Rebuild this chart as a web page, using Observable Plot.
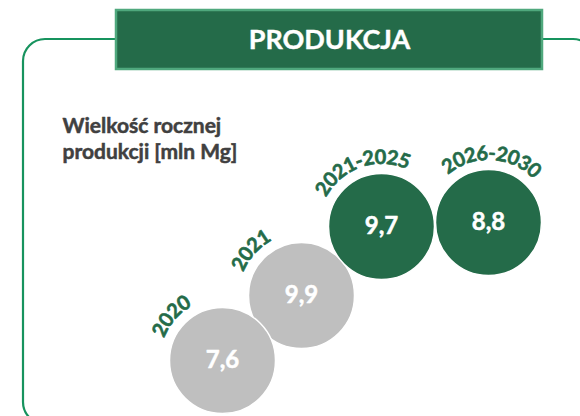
<!DOCTYPE html>
<html><head><meta charset="utf-8">
<script src="https://cdn.jsdelivr.net/npm/d3@7"></script>
<script src="https://cdn.jsdelivr.net/npm/@observablehq/plot@0.6"></script>
<style>html,body{margin:0;padding:0;background:#fff;} #chart{width:580px;height:416px;overflow:hidden}</style>
</head><body><div id="chart"></div>
<script>
// ---- data ----
const periods = ["2020", "2021", "2021-2025", "2026-2030"];
const values = [7.6, 9.9, 9.7, 8.8];
const kinds = ["historia", "historia", "prognoza", "prognoza"];
const headerText = "PRODUKCJA";
const subtitleLines = ["Wielkość rocznej", "produkcji [mln Mg]"];

// ---- layout (bubble placement, not data) ----
const bubbleX = [222, 301, 381, 488];
const bubbleY = [360, 295, 226, 222];
const labelAngle = [-49, -48, -19, 3];
const bubbleR = 53;
const labelRadius = 69;

const green = "#246B49";
const gray = "#BFBFBF";
const frameColor = "#17935E";
const fontFamily = "Lato";
const yearFont = 20;

const idx = periods.map((d, i) => i);
const fmt = v => v.toFixed(1).replace(".", ",");

// characters placed along an arc above each bubble
const ctx = document.createElement("canvas").getContext("2d");
ctx.font = `bold ${yearFont}px ${fontFamily}`;
const chars = [];
idx.forEach(i => {
  const s = periods[i];
  const ws = [...s].map(c => ctx.measureText(c).width + 0.4);
  const total = d3.sum(ws);
  let acc = 0;
  const a0 = labelAngle[i] * Math.PI / 180 - (total / 2) / labelRadius;
  [...s].forEach((c, k) => {
    const a = a0 + (acc + ws[k] / 2) / labelRadius;
    acc += ws[k];
    chars.push({
      ch: c,
      x: bubbleX[i] + labelRadius * Math.sin(a),
      y: bubbleY[i] - labelRadius * Math.cos(a),
      rot: a * 180 / Math.PI
    });
  });
});

const chart = Plot.plot({
  width: 580,
  height: 416,
  margin: 0,
  x: {domain: [0, 580], range: [0, 580], axis: null},
  y: {domain: [0, 416], range: [0, 416], axis: null},
  color: {domain: ["historia", "prognoza"], range: [gray, green]},
  style: {fontFamily: fontFamily, background: "white", overflow: "hidden"},
  marks: [
    Plot.rect([0], {x1: 23, x2: 595, y1: 39, y2: 424, rx: 22, fill: "none", stroke: frameColor, strokeWidth: 2.2}),
    Plot.rect([0], {x1: 116, x2: 542, y1: 10, y2: 69, fill: green, stroke: "#4FA87D", strokeWidth: 2.5}),
    Plot.text([headerText], {x: 329, y: 40, text: d => d, fill: "white", stroke: "white", strokeWidth: 0.4, fontSize: 27, fontWeight: "bold", lineAnchor: "middle"}),
    Plot.text([subtitleLines.join("\n")], {x: 62, y: 158, text: d => d, textAnchor: "start", lineAnchor: "bottom",
      lineHeight: 26 / 21, fontSize: 21, fontWeight: "bold", fill: "#404040", stroke: "#404040", strokeWidth: 0.5}),
    Plot.dot([1, 0, 2, 3], {x: i => bubbleX[i], y: i => bubbleY[i], r: bubbleR, fill: i => kinds[i], stroke: "white", strokeWidth: 1.5}),
    Plot.text(idx, {x: i => bubbleX[i], y: i => bubbleY[i], text: i => fmt(values[i]), fill: "white", stroke: "white", strokeWidth: 0.5, fontSize: 24, fontWeight: "bold", lineAnchor: "middle"}),
    Plot.text(chars, {x: "x", y: "y", text: "ch", rotate: "rot", fill: green, stroke: green, strokeWidth: 0.6, fontSize: yearFont, fontWeight: "bold", lineAnchor: "middle"})
  ]
});
document.getElementById("chart").appendChild(chart);
</script>
</body></html>
